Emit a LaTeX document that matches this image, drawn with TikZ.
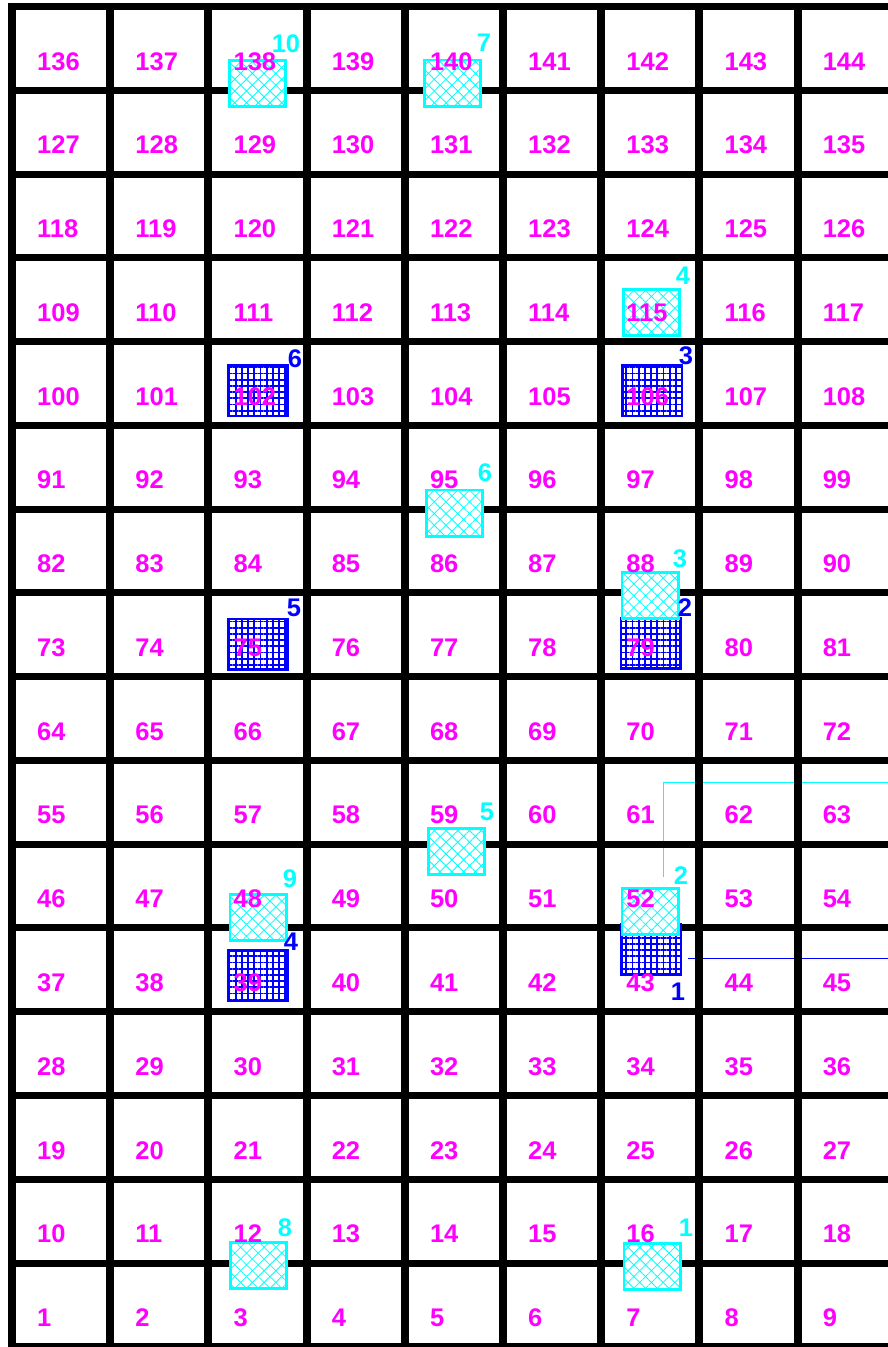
\documentclass[tikz,border=0pt]{standalone}
\usepackage{fontspec}
\setmainfont{Liberation Sans}
\usepackage{xcolor}
\usepackage{tikz}
\usetikzlibrary{patterns.meta}

\definecolor{cellmag}{RGB}{255,0,255}
\definecolor{markcyan}{RGB}{0,255,255}
\definecolor{markblue}{RGB}{0,0,255}

\tikzset{
  num/.style={cellmag, font=\fontsize{25.5}{30}\selectfont\bfseries, inner sep=0pt, anchor=base west},
  tag/.style={font=\fontsize{25.5}{30}\selectfont\bfseries, inner sep=0pt},
  cyanbox/.style={draw=markcyan, line width=2.6pt, preaction={fill=white},
    pattern={Hatch[angle=45,distance=8.3pt,line width=0.8pt]}, pattern color=markcyan,
    minimum width=56.4pt, minimum height=46.4pt, inner sep=0pt},
  bluebox/.style={draw=markblue, line width=2.5pt, preaction={fill=white},
    pattern={Hatch[angle=0,distance=6.2pt,line width=1.8pt]}, pattern color=markblue,
    minimum width=59.5pt, minimum height=50.5pt, inner sep=0pt}
}

\begin{document}
\begin{tikzpicture}[x=1pt,y=-1pt]
\useasboundingbox (0,0) rectangle (888,1347);
\clip (0,0) rectangle (888,1347);

% leader lines
\coordinate (cs) at (663,877);
\coordinate (cb) at (663,782);
\coordinate (ce) at (900,782);
\coordinate (bs) at (688,958);
\coordinate (be) at (900,958);
\draw[markcyan, line width=1pt] (cs) -- (cb) -- (ce);
\draw[markblue, line width=1pt] (bs) -- (be);

% grid
\foreach \i in {0,...,9}
	\draw[line width=8pt] (12+\i*98.2,2.5) -- (12+\i*98.2,1352);
\foreach \j in {0,...,16}
	\draw[line width=7pt] (8,6.5+\j*83.77) -- (900,6.5+\j*83.77);

% blue boxes
\foreach \n/\x/\y in {1/651/949, 2/650.5/643, 3/652/390.5, 4/257.5/975.5, 5/257.5/644, 6/257.5/390.5}
	\node[bluebox](b\n) at (\x,\y) {};

% cyan boxes
\foreach \n/\x/\y in {1/652/1266.5, 2/650/911.5, 3/650/595.5, 4/651.5/312.5, 5/456.5/851.5,
	6/454.5/513, 7/452.5/83, 8/258.5/1265.5, 9/258/917.5, 10/257.5/83.5}
	\node[cyanbox](c\n) at (\x,\y) {};

% cell numbers
\foreach \r in {0,...,15}
	\foreach \c in {0,...,8}{
		\pgfmathtruncatemacro{\k}{9*(15-\r)+\c+1}
		\node[num](n\k) at (37+\c*98.2,70+\r*83.77) {\k};
	}

% box tags
\foreach \n/\x/\y in {1/678/992, 2/685/608, 3/686/356, 4/291/942, 5/294/608, 6/295/359}
	\node[tag, markblue](tb\n) at (\x,\y) {\n};
\foreach \n/\x/\y in {1/686/1228, 2/681/876, 3/680/559, 4/683/276, 5/487/812,
	6/485/473, 7/484/43, 8/285/1228, 9/290/879, 10/286/44}
	\node[tag, markcyan](tc\n) at (\x,\y) {\n};

\end{tikzpicture}
\end{document}
